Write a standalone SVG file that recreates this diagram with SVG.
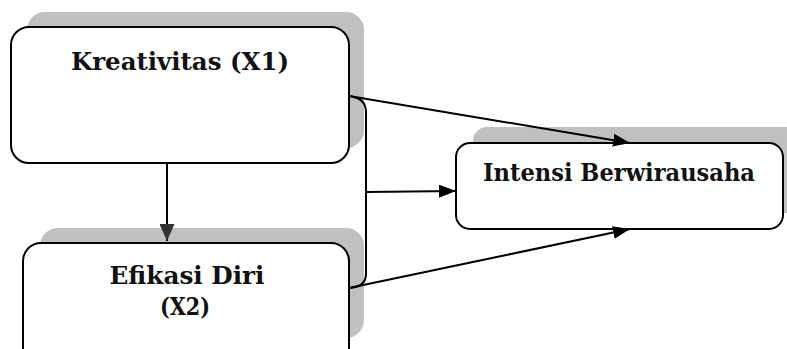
<svg xmlns="http://www.w3.org/2000/svg" width="787" height="349" viewBox="0 0 787 349">
<defs>
<style>
.shadow{fill:#c0c0c0;stroke:none}
.box{fill:#ffffff;stroke:#000000;stroke-width:2}
.lbl{font-family:"DejaVu Serif","Liberation Serif",serif;font-weight:bold;font-size:24px;fill:#111111;text-anchor:middle}
.conn{fill:none;stroke:#000000;stroke-width:2}
</style>
<marker id="arr" markerWidth="17" markerHeight="13" viewBox="0 0 17 13" refX="17" refY="6.5" orient="auto" markerUnits="userSpaceOnUse">
<path d="M0,0 L17,6.5 L0,13 Z" fill="#000000"/>
</marker>
<marker id="arrd" markerWidth="17" markerHeight="15" viewBox="0 0 17 15" refX="17" refY="7.5" orient="auto" markerUnits="userSpaceOnUse">
<path d="M0,0 L17,7.5 L0,15 Z" fill="#333333"/>
</marker>
</defs>
<rect width="787" height="349" fill="#ffffff"/>
<g id="node-kreativitas">
<rect class="shadow" x="27" y="12" width="337" height="136" rx="18"/>
<rect class="box" x="11" y="27" width="338" height="136" rx="18"/>
<text class="lbl" x="180" y="70" textLength="218" lengthAdjust="spacingAndGlyphs">Kreativitas (X1)</text>
</g>
<g id="node-efikasi">
<rect class="shadow" x="40" y="228" width="324" height="110" rx="18"/>
<rect class="box" x="23" y="243" width="326" height="130" rx="18"/>
<text class="lbl" x="187" y="284" textLength="155" lengthAdjust="spacingAndGlyphs">Efikasi Diri</text>
<text class="lbl" x="185" y="315" textLength="50" lengthAdjust="spacingAndGlyphs">(X2)</text>
</g>
<g id="node-intensi">
<rect class="shadow" x="473" y="127" width="340" height="86" rx="14"/>
<rect class="box" x="456" y="143" width="327" height="86" rx="14"/>
<text class="lbl" x="619" y="181" textLength="272" lengthAdjust="spacingAndGlyphs">Intensi Berwirausaha</text>
</g>
<g id="connectors">
<line class="conn" x1="167" y1="164" x2="167" y2="241" marker-end="url(#arrd)"/>
<path class="conn" d="M349,96 Q366,98 366,112 L366,274 Q366,287 349,288"/>
<line class="conn" x1="349" y1="96" x2="630" y2="143" marker-end="url(#arr)"/>
<line class="conn" x1="349" y1="288" x2="630" y2="229" marker-end="url(#arr)"/>
<line class="conn" x1="366" y1="192" x2="456" y2="191" marker-end="url(#arr)"/>
</g>
</svg>
